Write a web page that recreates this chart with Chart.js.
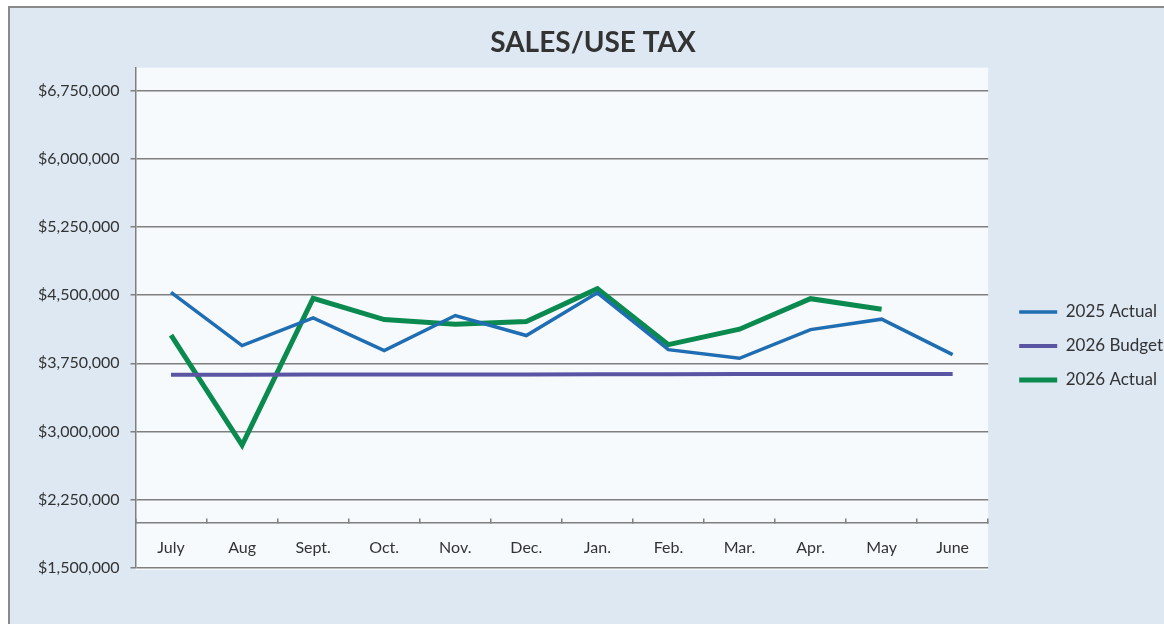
<!DOCTYPE html>
<html lang="en">

<head>
    <meta charset="UTF-8">
    <title>Sales/Use Tax</title>
    <script src="https://cdn.jsdelivr.net/npm/chart.js"></script>
    <style>
        body {
            margin: 0;
            background: #ffffff;
        }

        .frame {
            position: absolute;
            left: 8px;
            top: 6px;
            width: 1160px;
            height: 616px;
            background: #dde8f3;
            border-left: 2px solid #8a8a8a;
            border-top: 2px solid #8a8a8a;
        }

        .chart-box {
            position: absolute;
            left: 0;
            top: 0;
            width: 1164px;
            height: 625px;
        }
    </style>
</head>

<body>
    <div class="frame"></div>
    <div class="chart-box">
        <canvas id="salesTaxChart"></canvas>
    </div>

    <script>
        // months on the category axis
        const months = ['July', 'Aug', 'Sept.', 'Oct.', 'Nov.', 'Dec.', 'Jan.', 'Feb.', 'Mar.', 'Apr.', 'May', 'June'];

        // values
        const actual2025 = [4530000, 3945000, 4250000, 3890000, 4275000, 4055000, 4525000, 3900000, 3805000, 4120000, 4235000, 3845000];
        const budget2026 = [3625000, 3625000, 3627000, 3627000, 3628000, 3628000, 3630000, 3630000, 3632000, 3632000, 3633000, 3633000];
        const actual2026 = [4060000, 2850000, 4465000, 4230000, 4180000, 4210000, 4570000, 3955000, 4125000, 4460000, 4345000, null];

        // y axis ticks
        const yTicks = [1500000, 2250000, 3000000, 3750000, 4500000, 5250000, 6000000, 6750000];

        const plotBackground = {
            id: 'plotBackground',
            beforeDraw(chart) {
                const { ctx, chartArea } = chart;
                ctx.save();
                ctx.fillStyle = '#f6fafd';
                ctx.fillRect(chartArea.left, chartArea.top, chartArea.right - chartArea.left, chartArea.bottom - chartArea.top + 2);
                ctx.restore();
            }
        };

        // legend sits a bit further right and lower than chart.js puts it
        const legendNudge = {
            id: 'legendNudge',
            afterLayout(chart) {
                const lg = chart.legend;
                lg.left += 14; lg.right += 14;
                lg.top += 53; lg.bottom += 53;
            }
        };

        const ctx = document.getElementById('salesTaxChart').getContext('2d');
        new Chart(ctx, {
            type: 'line',
            data: {
                labels: months,
                datasets: [{
                    label: '2025 Actual',
                    data: actual2025,
                    borderColor: '#1f6db2',
                    backgroundColor: '#1f6db2',
                    borderWidth: 3.5,
                    pointRadius: 0,
                    tension: 0,
                    fill: false
                }, {
                    label: '2026 Budget',
                    data: budget2026,
                    borderColor: '#5a55a3',
                    backgroundColor: '#5a55a3',
                    borderWidth: 4,
                    pointRadius: 0,
                    tension: 0,
                    fill: false
                }, {
                    label: '2026 Actual',
                    data: actual2026,
                    borderColor: '#0b8a4f',
                    backgroundColor: '#0b8a4f',
                    borderWidth: 5,
                    pointRadius: 0,
                    tension: 0,
                    fill: false,
                    spanGaps: false
                }]
            },
            options: {
                responsive: true,
                maintainAspectRatio: false,
                animation: false,
                layout: {
                    padding: { left: 27, right: 5, top: 18, bottom: 57 }
                },
                plugins: {
                    title: {
                        display: true,
                        text: 'SALES/USE TAX',
                        color: '#333333',
                        font: { family: 'Lato', size: 28, weight: 'bold' },
                        padding: { top: 8, bottom: 8 }
                    },
                    legend: {
                        position: 'right',
                        labels: {
                            usePointStyle: true,
                            pointStyle: 'line',
                            pointStyleWidth: 38,
                            color: '#333333',
                            font: { family: 'Lato', size: 17 },
                            padding: 17
                        }
                    },
                    tooltip: { enabled: false }
                },
                scales: {
                    x: {
                        position: { y: 2000000 },
                        offset: true,
                        grid: {
                            display: true,
                            offset: true,
                            drawOnChartArea: false,
                            drawTicks: true,
                            tickLength: -5,
                            color: '#7f7f7f',
                            lineWidth: 1.5
                        },
                        border: { display: true, color: '#7f7f7f', width: 1.5 },
                        ticks: {
                            color: '#333333',
                            font: { family: 'Lato', size: 16 },
                            padding: 21,
                            maxRotation: 0,
                            autoSkip: false
                        }
                    },
                    y: {
                        min: 1500000,
                        max: 7000000,
                        afterBuildTicks(scale) {
                            scale.ticks = yTicks.map(v => ({ value: v }));
                        },
                        grid: {
                            color: '#7f7f7f',
                            lineWidth: 1.5,
                            tickLength: 5
                        },
                        border: { display: true, color: '#7f7f7f', width: 1.5 },
                        ticks: {
                            color: '#333333',
                            font: { family: 'Lato', size: 16 },
                            padding: 11,
                            callback: v => '$' + v.toLocaleString('en-US')
                        }
                    }
                }
            },
            plugins: [plotBackground, legendNudge]
        });
    </script>
</body>

</html>
